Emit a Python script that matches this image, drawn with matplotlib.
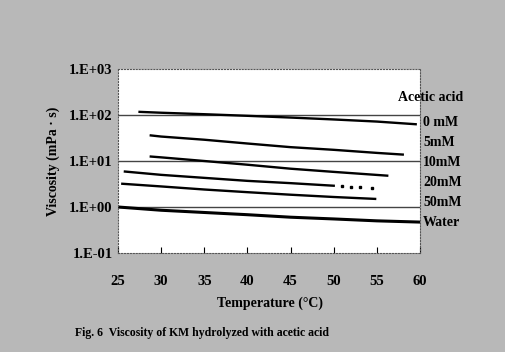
import matplotlib
matplotlib.use('Agg')
import matplotlib.pyplot as plt

# viscosity (mPa s), by acetic acid concentration
temp_0mm = [27.5, 30, 35, 40, 45, 50, 55, 59.5]
visc_0mm = [117, 112, 104, 96, 88, 80, 72, 63]
temp_5mm = [28.8, 30, 35, 40, 45, 50, 55, 58]
visc_5mm = [36, 34, 29, 24, 20, 17.5, 15, 13.8]
temp_10mm = [28.8, 30, 35, 40, 45, 50, 56.2]
visc_10mm = [12.5, 12, 10, 8.3, 6.8, 5.8, 4.8]
temp_20mm = [25.8, 30, 35, 40, 45, 50]
visc_20mm = [5.9, 5.0, 4.3, 3.7, 3.3, 2.9]
temp_20mm_tail = [51, 52, 53, 54.4]
visc_20mm_tail = [2.8, 2.75, 2.7, 2.6]
temp_50mm = [25.5, 30, 35, 40, 45, 50, 54.8]
visc_50mm = [3.2, 2.8, 2.4, 2.1, 1.85, 1.65, 1.5]
temp_water = [25, 30, 35, 40, 45, 50, 55, 60]
visc_water = [1.0, 0.85, 0.76, 0.68, 0.6, 0.55, 0.5, 0.47]

series_labels = ['0 mM', '5mM', '10mM', '20mM', '50mM', 'Water']
label_y = [123, 143, 162, 183, 203, 223]  # pixel rows of the side labels
x_ticks = [25, 30, 35, 40, 45, 50, 55, 60]
y_ticks = [0.1, 1, 10, 100, 1000]
y_tick_labels = ['1.E-01', '1.E+00', '1.E+01', '1.E+02', '1.E+03']

W, H = 506, 352
plt.rcParams['font.family'] = ['Liberation Serif', 'DejaVu Serif']
fig = plt.figure(figsize=(W / 100, H / 100), dpi=100)
fig.patch.set_facecolor('#b8b8b8')
ax = fig.add_axes([118 / W, 1 - 253 / H, 302 / W, 184 / H])
ax.set_facecolor('white')

for v in [1, 10, 100]:
    ax.axhline(v, color='#444444', lw=1.0, zorder=1)

lw = 1.7
ax.plot(temp_0mm, visc_0mm, color='black', lw=lw)
ax.plot(temp_5mm, visc_5mm, color='black', lw=lw)
ax.plot(temp_10mm, visc_10mm, color='black', lw=lw)
ax.plot(temp_20mm, visc_20mm, color='black', lw=lw)
ax.plot(temp_20mm_tail, visc_20mm_tail, color='black', ls='', marker='s', ms=1.8)
ax.plot(temp_50mm, visc_50mm, color='black', lw=lw)
ax.plot(temp_water, visc_water, color='black', lw=lw + 0.5)

ax.set_yscale('log')
ax.set_xlim(25, 60)
ax.set_ylim(0.1, 1000)
ax.set_yticks(y_ticks)
ax.set_yticklabels(y_tick_labels)
ax.minorticks_off()
ax.set_xticks(x_ticks)
ax.tick_params(axis='x', direction='in', length=4, pad=16, labelsize=10.5)
ax.tick_params(axis='y', length=0, pad=4, labelsize=10.5)
for lab in ax.get_xticklabels() + ax.get_yticklabels():
    lab.set_fontweight('bold')
for s in ax.spines.values():
    s.set_linestyle(':')
    s.set_color('#555555')
    s.set_linewidth(0.8)

ax.set_ylabel('Viscosity (mPa · s)', fontsize=10, fontweight='bold', labelpad=6)
fig.text(270 / W, 1 - 303 / H, 'Temperature (°C)', ha='center', va='center',
         fontsize=10, fontweight='bold')
fig.text(75 / W, 1 - 333 / H, 'Fig. 6  Viscosity of KM hydrolyzed with acetic acid',
         ha='left', va='center', fontsize=8.5, fontweight='bold')

fig.text(431 / W, 1 - 98 / H, 'Acetic acid', ha='center', va='center',
         fontsize=10, fontweight='bold')
for lab, py in zip(series_labels, label_y):
    fig.text(423 / W, 1 - py / H, lab, ha='left', va='center',
             fontsize=10, fontweight='bold')

fig.savefig('out.png', dpi=100, facecolor=fig.get_facecolor())
